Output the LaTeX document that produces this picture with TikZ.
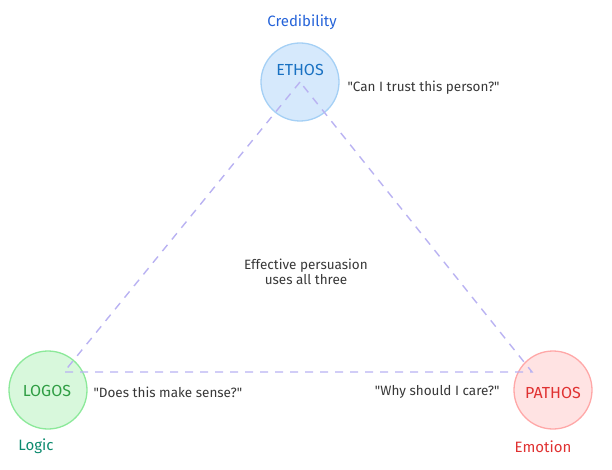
\documentclass[tikz,border=0pt]{standalone}
\usepackage{fontspec}
\setmainfont{Fira Sans}
\newfontfamily\qf{Fira Sans}
\definecolor{eF}{HTML}{D6E9FC}\definecolor{eS}{HTML}{A5D0F5}\definecolor{eT}{HTML}{1971C2}
\definecolor{lF}{HTML}{D8F8DC}\definecolor{lS}{HTML}{8CE99A}\definecolor{lT}{HTML}{2F9E44}
\definecolor{pF}{HTML}{FFE3E3}\definecolor{pS}{HTML}{FFA8A8}\definecolor{pT}{HTML}{E03131}
\definecolor{ln}{HTML}{B9B2F2}\definecolor{subB}{HTML}{2563D9}\definecolor{subG}{HTML}{0C8A6E}
\begin{document}
\begin{tikzpicture}[x=1pt,y=-1pt,
  circ/.style={circle,minimum size=78pt,inner sep=0pt,line width=1.3pt},
  lab/.style={font=\fontsize{16}{19}\selectfont},
  quote/.style={font=\qf\fontsize{13.5}{15}\selectfont,text=black!78},
  sub/.style={font=\fontsize{15}{17}\selectfont}]
\useasboundingbox (0,0) rectangle (612,470);
\coordinate (A) at (300,82);
\coordinate (B) at (64,372);
\coordinate (C) at (532,372);
\node[circ,draw=eS,fill=eF] (ethos) at (300,82) {};
\node[circ,draw=lS,fill=lF] (logos) at (48,390) {};
\node[circ,draw=pS,fill=pF] (pathos) at (553,390) {};
\draw[ln,line width=1.4pt,dash pattern=on 8pt off 7pt,line join=miter] (A) -- (B) -- (C) -- cycle;
\node[lab,text=eT] (et) at (300,70) {ETHOS};
\node[lab,text=lT] (lt) at (47,391) {LOGOS};
\node[lab,text=pT] (pt) at (553,393) {PATHOS};
\node[sub,text=subB] (cred) at (302,22) {Credibility};
\node[sub,text=subG] (logic) at (36,446) {Logic};
\node[sub,text=pT] (emo) at (543,447) {Emotion};
\node[quote,anchor=west] (q1) at (344,88) {"Can I trust this person?"};
\node[quote,anchor=west] (q2) at (90,392) {"Does this make sense?"};
\node[quote,anchor=east] (q3) at (503,392) {"Why should I care?"};
\node[quote,align=center] (mid) at (306,272) {Effective persuasion\\uses all three};
\end{tikzpicture}
\end{document}
